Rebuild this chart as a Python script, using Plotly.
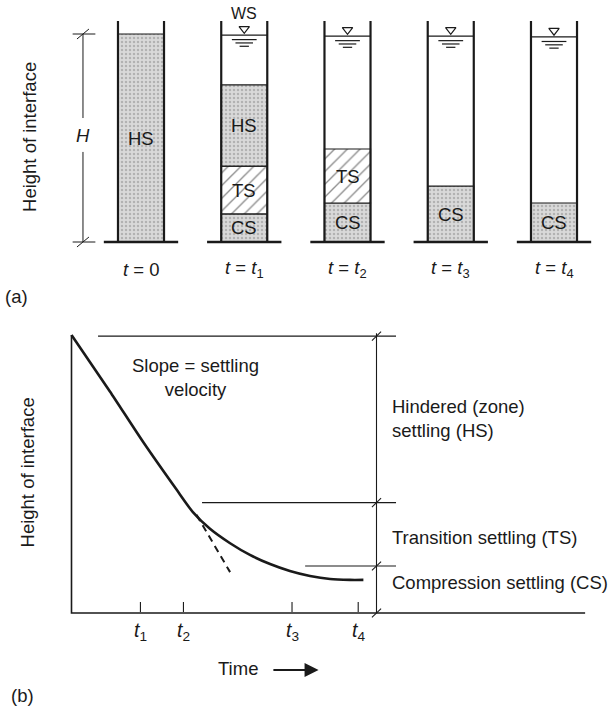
import plotly.graph_objects as go

# ---------------- data: panel (a) settling columns ----------------
col_labels = ["<i>t</i> = 0", "<i>t</i> = <i>t</i><sub>1</sub>", "<i>t</i> = <i>t</i><sub>2</sub>",
              "<i>t</i> = <i>t</i><sub>3</sub>", "<i>t</i> = <i>t</i><sub>4</sub>"]
col_pos = [0, 1, 2, 3, 4]
water_level = [None, 0.995, 0.99, 0.99, 0.986]      # relative to H
hs_top = [1.0, 0.755, None, None, None]
ts_top = [None, 0.365, 0.447, None, None]
cs_top = [None, 0.135, 0.1875, 0.269, 0.1875]
H = 1.0

# ---------------- data: panel (b) settling curve ----------------
curve_t = [0, 1.26, 2.35, 3.45, 3.98, 4.54, 5.20, 5.85, 6.51, 7.16, 7.82, 8.48, 9.13, 9.57]
curve_h = [1.0, 0.797, 0.615, 0.443, 0.363, 0.303, 0.251, 0.209, 0.176, 0.151, 0.133, 0.122, 0.119, 0.119]
tangent_t = [4.10, 5.20]
tangent_h = [0.353, 0.147]
tick_t = [2.26, 3.67, 7.23, 9.40]
tick_labels = ["<i>t</i><sub>1</sub>", "<i>t</i><sub>2</sub>", "<i>t</i><sub>3</sub>", "<i>t</i><sub>4</sub>"]
zone_h = [0.996, 0.397, 0.169, 0.0]     # boundaries HS / TS / CS / bottom
zone_start_t = [0.87, 4.28, 7.66, None]
t_right = 10.0
zone_labels = ["Hindered (zone)<br>settling (HS)", "Transition settling (TS)", "Compression settling (CS)"]

FONT = "Liberation Sans, Arial, sans-serif"
FS = 18.5
INK = "#1a1a1a"
OFF = 0  # body margin removed via post_script

fig = go.Figure()

# ---------------- panel (a) ----------------
half_w = 0.223
stipple = dict(shape=".", fgcolor="#8a8a8a", bgcolor="#d9d9d9", size=4, solidity=0.3)
hatch = dict(shape="/", fgcolor="#1a1a1a", bgcolor="white", size=9, solidity=0.15)

def layer(bottoms, tops, pattern):
    xs, bs, hs = [], [], []
    for c, b, t in zip(col_pos, bottoms, tops):
        if t is None:
            continue
        xs.append(c); bs.append(b); hs.append(t - b)
    fig.add_trace(go.Bar(x=xs, y=hs, base=bs, width=2 * half_w, xaxis="x", yaxis="y",
                         marker=dict(color=pattern["bgcolor"], pattern=pattern,
                                     line=dict(color=INK, width=1.2)),
                         hoverinfo="skip"))
    return list(zip(xs, bs, hs))

cs_bottom = [0.0] * 5
ts_bottom = [c if c is not None else 0.0 for c in cs_top]
hs_bottom = [t if t is not None else 0.0 for t in ts_top]
cs_l = layer(cs_bottom, cs_top, stipple)
ts_l = layer(ts_bottom, ts_top, hatch)
hs_l = layer(hs_bottom, hs_top, stipple)

ann = []
for name, lst in (("HS", hs_l), ("TS", ts_l), ("CS", cs_l)):
    for c, b, h in lst:
        ann.append(dict(x=c, y=b + h / 2, xref="x", yref="y", text=name, showarrow=False,
                        font=dict(family=FONT, size=FS, color=INK)))

# cylinder walls and bases
wx, wy, bx, by = [], [], [], []
for c in col_pos:
    for s in (-1, 1):
        wx += [c + s * half_w, c + s * half_w, None]
        wy += [0, 1.0625 * H, None]
    bx += [c - 0.36, c + 0.36, None]
    by += [0, 0, None]
fig.add_trace(go.Scatter(x=wx, y=wy, mode="lines", line=dict(color=INK, width=2.2),
                         xaxis="x", yaxis="y", hoverinfo="skip"))
fig.add_trace(go.Scatter(x=bx, y=by, mode="lines", line=dict(color=INK, width=2.6),
                         xaxis="x", yaxis="y", hoverinfo="skip"))

# water surfaces
sx, sy, tri_x, tri_y = [], [], [], []
for c, w in zip(col_pos, water_level):
    if w is None:
        continue
    sx += [c - half_w, c + half_w, None]; sy += [w, w, None]
    for k, hw in enumerate((0.12, 0.085, 0.045)):
        yy = w - 0.022 - 0.016 * k
        sx += [c - hw, c + hw, None]; sy += [yy, yy, None]
    tri_x.append(c); tri_y.append(w + 0.03)
fig.add_trace(go.Scatter(x=sx, y=sy, mode="lines", line=dict(color=INK, width=1.2),
                         xaxis="x", yaxis="y", hoverinfo="skip"))
fig.add_trace(go.Scatter(x=tri_x, y=tri_y, mode="markers",
                         marker=dict(symbol="triangle-down-open", size=9, color=INK, line=dict(width=1.2)),
                         xaxis="x", yaxis="y", hoverinfo="skip"))

# H dimension
dim_x = -0.562
fig.add_trace(go.Scatter(x=[dim_x, dim_x, None, dim_x, dim_x], y=[0, 0.433 * H, None, 0.596 * H, H],
                         mode="lines", line=dict(color=INK, width=1), xaxis="x", yaxis="y", hoverinfo="skip"))
kx, ky = [], []
for yv in (0, H):
    kx += [dim_x - 0.058, dim_x + 0.058, None, dim_x - 0.1, dim_x + 0.12, None]
    ky += [yv - 0.024, yv + 0.024, None, yv, yv, None]
fig.add_trace(go.Scatter(x=kx, y=ky, mode="lines", line=dict(color=INK, width=1),
                         xaxis="x", yaxis="y", hoverinfo="skip"))
ann.append(dict(x=dim_x, y=0.514 * H, xref="x", yref="y", text="<i>H</i>", showarrow=False,
                font=dict(family=FONT, size=FS, color=INK)))
ann.append(dict(x=1, y=1.10, xref="x", yref="y", text="WS", showarrow=False,
                font=dict(family=FONT, size=16, color=INK)))
for c, lab in zip(col_pos, col_labels):
    ann.append(dict(x=c, y=-0.13, xref="x", yref="y", text=lab, showarrow=False,
                    font=dict(family=FONT, size=FS, color=INK)))
ann.append(dict(x=-1.075, y=0.505, xref="x", yref="y", text="Height of interface", textangle=-90,
                showarrow=False, font=dict(family=FONT, size=FS, color=INK)))
ann.append(dict(x=-1.21, y=-0.264, xref="x", yref="y", text="(a)", showarrow=False,
                font=dict(family=FONT, size=FS, color=INK)))

# ---------------- panel (b) ----------------
def seg(x, y, width=1.3, dash="solid", shape="linear"):
    fig.add_trace(go.Scatter(x=x, y=y, mode="lines",
                             line=dict(color=INK, width=width, dash=dash, shape=shape, smoothing=0.6),
                             xaxis="x2", yaxis="y2", hoverinfo="skip"))

# axes
seg([0, 0, 16.84], [1.0, 0, 0], width=1.6)
# right dimension line
seg([t_right, t_right], [0, zone_h[0] + 0.01], width=1.1)
# zone boundary lines
for h, t0 in zip(zone_h, zone_start_t):
    if t0 is not None:
        seg([t0, t_right + 0.64], [h, h], width=1.2)
# slash ticks on dimension line
sx2, sy2 = [], []
for h in zone_h:
    sx2 += [t_right - 0.15, t_right + 0.15, None]
    sy2 += [h - 0.016, h + 0.016, None]
seg(sx2, sy2, width=1.1)
# time ticks
tx, ty = [], []
for t in tick_t:
    tx += [t, t, None]; ty += [0.004, 0.04, None]
seg(tx, ty, width=1.1)
# curve and tangent
seg(curve_t, curve_h, width=2.6, shape="spline")
seg(tangent_t, tangent_h, width=2.0, dash="7px,5px")

for t, lab in zip(tick_t, tick_labels):
    ann.append(dict(x=t, y=-0.068, xref="x2", yref="y2", text=lab, showarrow=False,
                    font=dict(family=FONT, size=FS + 1, color=INK)))
ann.append(dict(x=4.08, y=0.847, xref="x2", yref="y2", text="Slope = settling<br>velocity",
                showarrow=False, font=dict(family=FONT, size=FS, color=INK)))
label_h = [0.70, 0.27, 0.108]
for h, lab in zip(label_h, zone_labels):
    ann.append(dict(x=10.45, y=h, xref="x2", yref="y2", text=lab, showarrow=False, xanchor="left",
                    align="left", font=dict(family=FONT, size=FS, color=INK)))
ann.append(dict(x=5.46, y=-0.198, xref="x2", yref="y2", text="Time", showarrow=False,
                font=dict(family=FONT, size=FS, color=INK)))
ann.append(dict(x=8.1, y=-0.205, ax=6.57, ay=-0.205, xref="x2", yref="y2", axref="x2", ayref="y2",
                text="", showarrow=True, arrowhead=2, arrowsize=1.4, arrowwidth=2, arrowcolor=INK))
ann.append(dict(x=-1.44, y=0.504, xref="x2", yref="y2", text="Height of interface", textangle=-90,
                showarrow=False, font=dict(family=FONT, size=FS, color=INK)))
ann.append(dict(x=-1.62, y=-0.295, xref="x2", yref="y2", text="(b)", showarrow=False,
                font=dict(family=FONT, size=FS, color=INK)))

W, Hpx = 609, 711
split = (Hpx - 300) / Hpx
fig.update_layout(
    width=W, height=Hpx, margin=dict(l=0, r=0, t=0, b=0),
    paper_bgcolor="white", plot_bgcolor="white", showlegend=False, barmode="overlay",
    hovermode=False,
    xaxis=dict(domain=[0, 1], range=[(OFF - 141) / 103.25, (OFF + W - 141) / 103.25],
               visible=False, fixedrange=True),
    yaxis=dict(domain=[split, 1], range=[(242 - OFF - 300) / 208, (242 - OFF) / 208],
               visible=False, fixedrange=True),
    xaxis2=dict(domain=[0, 1], range=[(OFF - 71.5) / 30.5, (OFF + W - 71.5) / 30.5],
                visible=False, fixedrange=True, anchor="y2"),
    yaxis2=dict(domain=[0, split], range=[(613 - OFF - Hpx) / 278, (613 - OFF - 300) / 278],
                visible=False, fixedrange=True, anchor="x2"),
    annotations=ann,
)
fig.write_html("out.html", config={"displayModeBar": False},
               post_script="document.body.style.margin='0px';document.body.style.overflow='hidden';")
